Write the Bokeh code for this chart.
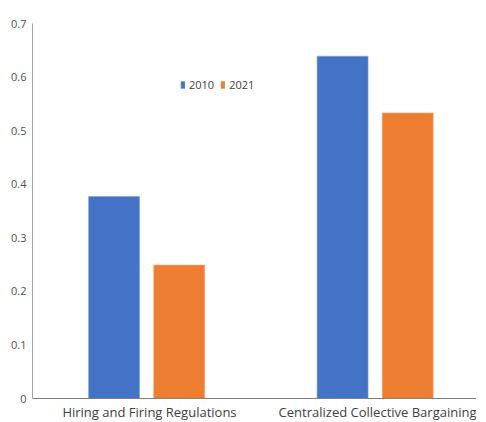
from bokeh.plotting import figure
from bokeh.models import Range1d, FixedTicker, ColumnDataSource, Legend, LegendItem
from bokeh.transform import dodge
from bokeh.embed import file_html
from bokeh.resources import INLINE

categories = ["Hiring and Firing Regulations", "Centralized Collective Bargaining"]
series_names = ["2010", "2021"]
values_2010 = [0.377, 0.639]
values_2021 = [0.249, 0.533]
y_ticks = [0, 0.1, 0.2, 0.3, 0.4, 0.5, 0.6, 0.7]
y_tick_labels = ["0", "0.1", "0.2", "0.3", "0.4", "0.5", "0.6", "0.7"]

BLUE = "#4472C4"
ORANGE = "#ED7D31"
FONT = "Open Sans"

pos = [i + 0.5 for i in range(len(categories))]
src = ColumnDataSource(dict(x=pos, v2010=values_2010, v2021=values_2021))

p = figure(frame_width=444, frame_height=375, output_backend="svg", toolbar_location=None,
           x_range=Range1d(-0.012, 1.931), y_range=Range1d(0, 0.7),
           min_border_left=32, min_border_right=0, min_border_top=23, min_border_bottom=10)

r1 = p.vbar(x=dodge("x", -0.155, range=p.x_range), top="v2010", width=0.223, source=src,
            fill_color=BLUE, line_color="#7f9fd9", line_width=0.6)
r2 = p.vbar(x=dodge("x", 0.13, range=p.x_range), top="v2021", width=0.223, source=src,
            fill_color=ORANGE, line_color="#f3a676", line_width=0.6)

p.grid.visible = False
p.outline_line_color = None
p.background_fill_color = "white"
p.border_fill_color = "white"

ya = p.yaxis[0]
ya.ticker = FixedTicker(ticks=y_ticks)
ya.major_label_overrides = {t: l for t, l in zip(y_ticks, y_tick_labels)}
ya.major_tick_line_color = None
ya.major_tick_out = 0
ya.major_tick_in = 0
ya.minor_tick_line_color = None
ya.minor_tick_out = 0
ya.axis_line_color = "#a6a6a6"
ya.major_label_text_font = FONT
ya.major_label_text_font_size = "11px"
ya.major_label_text_color = "#505050"
ya.major_label_standoff = 6

xa = p.xaxis[0]
xa.ticker = FixedTicker(ticks=pos)
xa.major_label_overrides = {t: c for t, c in zip(pos, categories)}
xa.major_tick_line_color = None
xa.major_tick_out = 0
xa.major_tick_in = 0
xa.minor_tick_line_color = None
xa.minor_tick_out = 0
xa.axis_line_color = "#7f7f7f"
xa.major_label_text_font = FONT
xa.major_label_text_font_size = "13px"
xa.major_label_text_color = "#404040"
xa.major_label_standoff = 4

legend = Legend(items=[LegendItem(label=series_names[0], renderers=[r1]),
                       LegendItem(label=series_names[1], renderers=[r2])],
                orientation="horizontal", location=(148, 306))
legend.border_line_color = None
legend.background_fill_alpha = 0
legend.padding = 0
legend.margin = 0
legend.spacing = 6
legend.glyph_width = 5
legend.glyph_height = 9
legend.label_height = 12
legend.label_standoff = 4
legend.label_text_font = FONT
legend.label_text_font_size = "11px"
legend.label_text_color = "#404040"
p.add_layout(legend, "center")

open("out.html", "w").write(file_html(p, INLINE))
